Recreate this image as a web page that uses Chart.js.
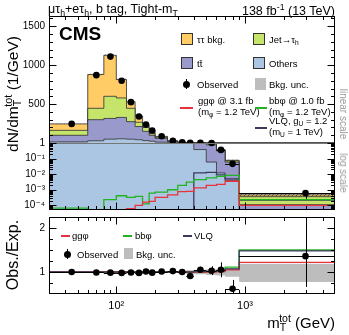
<!DOCTYPE html>
<html>
<head>
<meta charset="utf-8">
<script src="https://cdn.jsdelivr.net/npm/chart.js@4.4.1/dist/chart.umd.min.js"></script>
<style>
body { margin: 0; background: #fff; }
#wrap { position: relative; width: 349px; height: 335px; overflow: hidden; font-family: 'Liberation Sans', Arial, sans-serif; color: #000; }
canvas { position: absolute; left: 0; top: 0; }
.t { position: absolute; white-space: nowrap; line-height: 1; }
.sub { font-size: 70%; vertical-align: -0.3em; }
.sup { font-size: 70%; vertical-align: 0.55em; }
.rot { transform: translate(-50%, -50%) rotate(-90deg); }
.rotcw { transform: translate(-50%, -50%) rotate(90deg); }
.box { position: absolute; border: 1px solid #333; box-sizing: border-box; }
.ln { position: absolute; height: 1.5px; }
.leg { font-size: 9.5px; }
</style>
</head>
<body>
<div id="wrap">
  <canvas id="cLin" width="349" height="335"></canvas>
  <canvas id="cLog" width="349" height="335"></canvas>
  <canvas id="cRat" width="349" height="335"></canvas>

  <div class="t" style="left:48px;top:3px;font-size:12.5px;">μτ<span class="sub">h</span>+eτ<span class="sub">h</span>, b tag, Tight-m<span class="sub">T</span></div>
  <div class="t" style="right:14px;top:3px;font-size:12.5px;">138 fb<span class="sup">-1</span> (13 TeV)</div>
  <div class="t" style="left:59px;top:24px;font-size:19px;font-weight:bold;">CMS</div>

  <!-- main legend -->
  <div class="box" style="left:181px;top:33px;width:12px;height:12px;background:#ffcc66;"></div>
  <div class="t leg" style="left:197px;top:35px;">ττ bkg.</div>
  <div class="box" style="left:253px;top:33px;width:12px;height:12px;background:#c5e46a;"></div>
  <div class="t leg" style="left:269px;top:35px;">Jet→τ<span class="sub">h</span></div>
  <div class="box" style="left:181px;top:57px;width:12px;height:12px;background:#9999cc;"></div>
  <div class="t leg" style="left:197px;top:59px;">tt̄</div>
  <div class="box" style="left:253px;top:57px;width:12px;height:12px;background:#abc6e2;"></div>
  <div class="t leg" style="left:269px;top:59px;">Others</div>
  <div style="position:absolute;left:186px;top:79px;width:1px;height:10px;background:#000;"></div>
  <div style="position:absolute;left:183px;top:81px;width:7px;height:7px;border-radius:50%;background:#000;"></div>
  <div class="t leg" style="left:197px;top:80px;">Observed</div>
  <div style="position:absolute;left:255px;top:78px;width:11px;height:12px;background:#bdbdbd;"></div>
  <div class="t leg" style="left:269px;top:80px;">Bkg. unc.</div>
  <div class="ln" style="left:180px;top:107px;width:13px;background:#e8323c;"></div>
  <div class="t leg" style="left:198px;top:96px;">ggφ @ 3.1 fb</div>
  <div class="t leg" style="left:198px;top:107px;">(m<span class="sub">φ</span> = 1.2 TeV)</div>
  <div class="ln" style="left:255px;top:107px;width:12px;background:#22b322;"></div>
  <div class="t leg" style="left:269px;top:96px;">bbφ @ 1.0 fb</div>
  <div class="t leg" style="left:269px;top:107px;">(m<span class="sub">φ</span> = 1.2 TeV)</div>
  <div class="ln" style="left:255px;top:127px;width:12px;background:#3a3a5c;"></div>
  <div class="t leg" style="left:269px;top:116px;">VLQ, g<span class="sub">U</span> = 1.2</div>
  <div class="t leg" style="left:269px;top:127px;">(m<span class="sub">U</span> = 1 TeV)</div>

  <!-- ratio legend -->
  <div class="ln" style="left:61px;top:235px;width:9px;background:#e8323c;"></div>
  <div class="t" style="left:72px;top:231px;font-size:9.5px;">ggφ</div>
  <div class="ln" style="left:123px;top:235px;width:9px;background:#22b322;"></div>
  <div class="t" style="left:135px;top:231px;font-size:9.5px;">bbφ</div>
  <div class="ln" style="left:183px;top:235px;width:9px;background:#3a3a5c;"></div>
  <div class="t" style="left:194px;top:231px;font-size:9.5px;">VLQ</div>
  <div style="position:absolute;left:67px;top:249px;width:1px;height:10px;background:#000;"></div>
  <div style="position:absolute;left:64px;top:251px;width:7px;height:7px;border-radius:50%;background:#000;"></div>
  <div class="t" style="left:77px;top:250px;font-size:9.5px;">Observed</div>
  <div style="position:absolute;left:124px;top:248px;width:9px;height:11px;background:#bdbdbd;"></div>
  <div class="t" style="left:136px;top:250px;font-size:9.5px;">Bkg. unc.</div>

  <!-- axis titles -->
  <div class="t rot" style="left:13px;top:94px;font-size:15.5px;">dN/dm<span class="sub">T</span><span class="sup" style="margin-left:-7px;">tot</span> (1/GeV)</div>
  <div class="t rot" style="left:13px;top:255px;font-size:16px;">Obs./Exp.</div>
  <div class="t" style="right:14px;top:313px;font-size:15px;">m<span class="sub">T</span><span class="sup" style="margin-left:-7px;">tot</span> (GeV)</div>
  <div class="t rotcw" style="left:343px;top:114px;font-size:10px;color:#999;">linear scale</div>
  <div class="t rotcw" style="left:343px;top:173px;font-size:10px;color:#999;">log scale</div>
</div>

<script>
// m_T^tot bin edges (GeV)
const binEdges = [30, 60, 80, 100, 120, 140, 160, 180, 200, 250, 300, 350, 400, 500, 600, 700, 900, 5000];

// stacked backgrounds, events / GeV
const others   = [15, 30, 50, 55, 50, 43, 32, 24, 12, 5, 2.5, 1.3, 0.38, 0.06, 0.012, 0.004, 0.00002];
const ttbar    = [85, 270, 266, 274, 225, 169, 118, 76, 48, 15.5, 5.5, 2.0, 1.1, 0.7, 0.30, 0.055, 0.00009];
const jetFakes = [63, 146, 284, 250, 171, 55, 50, 21, 14, 5.5, 2.0, 0.6, 0.28, 0.14, 0.045, 0.012, 0.00025];
const tautau   = [83, 434, 526, 237, 84, 81, 35, 43, 12, 3.5, 1.0, 0.3, 0.14, 0.07, 0.02, 0.007, 0.00011];

// relative background uncertainty (band edges)
const uncLo = [0.99, 0.99, 0.99, 0.99, 0.99, 0.988, 0.985, 0.985, 0.98, 0.975, 0.97, 0.96, 0.95, 0.93, 0.92, 0.89, 0.77];
const uncHi = [1.01, 1.01, 1.01, 1.01, 1.01, 1.012, 1.015, 1.015, 1.02, 1.025, 1.03, 1.04, 1.05, 1.06, 1.07, 1.09, 1.19];

// data
const observed = [246, 871, 1109, 800, 525, 341, 237, 162, 87, 30, 11, 3.8, 2.0, 1.0, 0.36, 0.046, 0.00061];
const obsErrLo = [3, 7, 7.5, 6, 5, 4, 3.5, 3, 1.3, 0.8, 0.45, 0.27, 0.14, 0.1, 0.06, 0.015, 0.00035];
const obsErrHi = [3, 7, 7.5, 6, 5, 4, 3.5, 3, 1.3, 0.8, 0.45, 0.27, 0.14, 0.1, 0.06, 0.015, 0.0003];

// signals (1e-7 = below the axis)
const sigGG  = [1e-7, 1e-7, 1e-7, 1e-7, 6e-5, 1e-4, 1.6e-4, 1.8e-4, 3.2e-4, 4.7e-4, 7.5e-4, 7.9e-4, 1.3e-3, 1.9e-3, 2.2e-3, 3.5e-3, 1.0e-4];
const sigBB  = [6.6e-5, 3e-5, 2.3e-4, 4.1e-4, 3.2e-4, 3.7e-4, 1.25e-4, 6.1e-4, 7.1e-4, 1.0e-3, 1.9e-3, 3.1e-3, 4.4e-3, 5.7e-3, 7.2e-3, 8.4e-3, 2.3e-4];
const sigVLQ = [1e-7, 1e-7, 1e-7, 1e-7, 1e-7, 1e-7, 1e-7, 1e-7, 1e-7, 1e-7, 1e-7, 1e-7, 0.012, 0.013, 0.009, 0.005, 2.2e-4];

// ratio panel
const ratioObs   = [1.0, 0.99, 0.985, 0.98, 0.99, 0.98, 1.01, 0.985, 1.01, 1.02, 1.0, 0.91, 1.05, 1.03, 1.05, 0.62, 1.36];
const ratioErrLo = [0.012, 0.008, 0.007, 0.008, 0.01, 0.012, 0.014, 0.018, 0.015, 0.026, 0.04, 0.07, 0.07, 0.1, 0.17, 0.2, 0.7];
const ratioErrHi = [0.012, 0.008, 0.007, 0.008, 0.01, 0.012, 0.014, 0.018, 0.015, 0.026, 0.04, 0.07, 0.07, 0.1, 0.17, 0.2, 1.5];
const ratioGG  = [1, 1, 1, 1, 1, 1, 1, 1, 1, 1, 1, 1, 1.0, 1.0, 1.01, 1.05, 1.22];
const ratioBB  = [1, 1, 1, 1, 1, 1, 1, 1, 1, 1, 1, 1, 1.0, 1.01, 1.02, 1.11, 1.5];
const ratioVLQ = [1, 1, 1, 1, 1, 1, 1, 1, 1, 1, 1, 1, 1.01, 1.015, 1.03, 1.07, 1.48];

// axis ticks
const xMajorTicks = [100, 1000];
const xLabels = {100: '10²', 1000: '10³'};
const linTicks = [500, 1000, 1500];
const logTicks = [1e-4, 1e-3, 1e-2, 1e-1, 1];
const logLabels = {1: '1', 0.1: '10⁻¹', 0.01: '10⁻²', 0.001: '10⁻³', 0.0001: '10⁻⁴'};
const ratioTicks = [1, 2];

const colors = {
    tautau: '#ffcc66', jet: '#c5e46a', tt: '#9999cc', others: '#abc6e2',
    gg: '#e8323c', bb: '#22b322', vlq: '#3a3a5c', unc: '#bdbdbd'
};

Chart.defaults.font.family = "'Liberation Sans', 'DejaVu Sans', Arial, sans-serif";
Chart.defaults.color = '#000';

const binCenters = binEdges.slice(0, -1).map((e, i) => (e + binEdges[i + 1]) / 2);
const totalBkg = others.map((v, i) => v + ttbar[i] + jetFakes[i] + tautau[i]);

function stepData(vals) {
    const pts = vals.map((v, i) => ({x: binEdges[i], y: v}));
    pts.push({x: binEdges[vals.length], y: vals[vals.length - 1]});
    return pts;
}

function logMinor(lo, hi) {
    const out = [];
    for (let e = Math.floor(Math.log10(lo)); e <= Math.ceil(Math.log10(hi)); e++) {
        for (let m = 2; m <= 9; m++) {
            const v = m * Math.pow(10, e);
            if (v > lo && v < hi) out.push(v);
        }
    }
    return out;
}

function hatch() {
    const c = document.createElement('canvas');
    c.width = 4; c.height = 4;
    const g = c.getContext('2d');
    g.strokeStyle = 'rgba(70,70,70,0.85)';
    g.lineWidth = 1;
    g.beginPath(); g.moveTo(-1, 5); g.lineTo(5, -1); g.stroke();
    return g.createPattern(c, 'repeat');
}

const panelFrame = {
    id: 'panelFrame',
    beforeDatasetsDraw(chart, args, o) {
        if (!o.unity) return;
        const {ctx, chartArea: a, scales: {y}} = chart;
        const yy = Math.round(y.getPixelForValue(1)) + 0.5;
        ctx.save();
        ctx.strokeStyle = '#000'; ctx.lineWidth = 1.2;
        ctx.beginPath(); ctx.moveTo(a.left, yy); ctx.lineTo(a.right, yy); ctx.stroke();
        ctx.restore();
    },
    afterDatasetsDraw(chart, args, o) {
        const {ctx, chartArea: a, scales: {x, y}} = chart;
        ctx.save();
        if (o.err) {
            ctx.beginPath();
            ctx.rect(a.left, a.top, a.right - a.left, a.bottom - a.top);
            ctx.clip();
            ctx.strokeStyle = '#000'; ctx.lineWidth = 1;
            ctx.beginPath();
            o.err.val.forEach((v, i) => {
                if (v > o.err.max) return;
                const px = Math.round(x.getPixelForValue(binCenters[i])) + 0.5;
                const py = Math.round(y.getPixelForValue(v)) + 0.5;
                const lo = Math.max(v - o.err.lo[i], y.min / 10);
                ctx.moveTo(px, y.getPixelForValue(lo));
                ctx.lineTo(px, y.getPixelForValue(v + o.err.hi[i]));
                ctx.moveTo(x.getPixelForValue(binEdges[i]), py);
                ctx.lineTo(x.getPixelForValue(binEdges[i + 1]), py);
            });
            ctx.stroke();
            ctx.restore();
            ctx.save();
        }
        if (o.divider) {
            ctx.strokeStyle = '#777'; ctx.lineWidth = 1;
            ctx.beginPath(); ctx.moveTo(a.left, a.top + 0.5); ctx.lineTo(a.right, a.top + 0.5); ctx.stroke();
        }
        ctx.strokeStyle = '#000'; ctx.lineWidth = 1;
        const L = a.left + 0.5, R = a.right - 0.5, T = a.top + 0.5, B = a.bottom - 0.5;
        ctx.beginPath();
        const hTick = (v, len) => {
            const p = Math.round(y.getPixelForValue(v)) + 0.5;
            if (p < a.top || p > a.bottom) return;
            ctx.moveTo(L, p); ctx.lineTo(L + len, p);
            ctx.moveTo(R, p); ctx.lineTo(R - len, p);
        };
        const vTick = (v, len) => {
            const p = Math.round(x.getPixelForValue(v)) + 0.5;
            if (o.top) { ctx.moveTo(p, T); ctx.lineTo(p, T + len); }
            if (o.bottom) { ctx.moveTo(p, B); ctx.lineTo(p, B - len); }
        };
        o.yMajor.forEach(v => hTick(v, 7));
        o.yMinor.forEach(v => hTick(v, 3.5));
        xMajorTicks.forEach(v => vTick(v, 7));
        logMinor(30, 5000).forEach(v => vTick(v, 3.5));
        ctx.moveTo(L, a.top); ctx.lineTo(L, a.bottom);
        ctx.moveTo(R, a.top); ctx.lineTo(R, a.bottom);
        if (o.top) { ctx.moveTo(a.left, T); ctx.lineTo(a.right, T); }
        if (o.bottom) { ctx.moveTo(a.left, B); ctx.lineTo(a.right, B); }
        ctx.stroke();
        ctx.restore();
    }
};

function xScale(show) {
    return {
        type: 'logarithmic', min: 30, max: 5000, display: show,
        grid: {display: false, drawTicks: false}, border: {display: false},
        afterBuildTicks: s => { s.ticks = xMajorTicks.map(v => ({value: v})); },
        afterFit: s => { if (show) s.height = 41; },
        ticks: {autoSkip: false, maxRotation: 0, padding: 5, font: {size: 11}, callback: v => xLabels[v] || ''}
    };
}

function yScale(type, min, max, ticks, labels, stacked) {
    return {
        type: type, min: min, max: max, stacked: stacked,
        grid: {display: false, drawTicks: false}, border: {display: false},
        afterFit: s => { s.width = 49; },
        afterBuildTicks: s => { s.ticks = ticks.map(v => ({value: v})); },
        ticks: {autoSkip: false, padding: 4, font: {size: 10}, callback: v => labels ? labels[v] : String(v)}
    };
}

function bkgDatasets(pattern) {
    return [
        {data: stepData(totalBkg.map((t, i) => t * uncLo[i])), stack: 'ulo', borderWidth: 0, fill: false},
        {data: stepData(totalBkg.map((t, i) => t * uncHi[i])), stack: 'uhi', borderWidth: 0, fill: '-1', backgroundColor: pattern},
        {data: stepData(others), stack: 'bkg', fill: 'start', backgroundColor: colors.others},
        {data: stepData(ttbar), stack: 'bkg', fill: '-1', backgroundColor: colors.tt},
        {data: stepData(jetFakes), stack: 'bkg', fill: '-1', backgroundColor: colors.jet},
        {data: stepData(tautau), stack: 'bkg', fill: '-1', backgroundColor: colors.tautau}
    ];
}

function signalDataset(vals, color, stack) {
    return {data: stepData(vals), stack: stack, borderColor: color, borderWidth: 1.3, fill: false};
}

const baseOptions = {
    responsive: false, animation: false, devicePixelRatio: 1, events: [],
    elements: {
        line: {stepped: true, tension: 0, borderColor: '#2a2a2a', borderWidth: 0.8},
        point: {radius: 0}
    }
};

function makeOptions(padding, x, y, frame) {
    return Object.assign({}, baseOptions, {
        layout: {padding: padding},
        scales: {x: x, y: y},
        plugins: {legend: {display: false}, tooltip: {enabled: false}, panelFrame: frame}
    });
}

const pat = hatch();

// linear part of the upper panel
new Chart(document.getElementById('cLin'), {
    type: 'line',
    data: {datasets: [
        {type: 'scatter', data: observed.map((v, i) => ({x: binCenters[i], y: v >= 1 ? v : null})),
         stack: 'obs', pointRadius: 3.3, pointBackgroundColor: '#000', pointBorderWidth: 0,
         clip: {left: 0, right: 0, top: 0, bottom: 4}}
    ].concat(bkgDatasets(pat).map(d => Object.assign(d, {clip: 0})))},
    options: makeOptions({top: 16, bottom: 192, left: 0, right: 14},
        xScale(false), yScale('linear', 1, 1630, linTicks, null, true),
        {top: true, bottom: false, yMajor: linTicks, yMinor: [100, 200, 300, 400, 600, 700, 800, 900, 1100, 1200, 1300, 1400, 1600]}),
    plugins: [panelFrame]
});

// log part of the upper panel
new Chart(document.getElementById('cLog'), {
    type: 'line',
    data: {datasets: [
        {type: 'scatter', data: observed.map((v, i) => ({x: binCenters[i], y: v})),
         stack: 'obs', pointRadius: 3.3, pointBackgroundColor: '#000', pointBorderWidth: 0},
        signalDataset(sigGG, colors.gg, 'gg'),
        signalDataset(sigBB, colors.bb, 'bb'),
        signalDataset(sigVLQ, colors.vlq, 'vlq')
    ].concat(bkgDatasets(pat)).map(d => Object.assign(d, {clip: 0}))},
    options: makeOptions({top: 143, bottom: 125, left: 0, right: 14},
        xScale(false), yScale('logarithmic', 5e-5, 1, logTicks, logLabels, true),
        {top: false, bottom: true, divider: true, yMajor: logTicks, yMinor: logMinor(5e-5, 1),
         err: {val: observed, lo: obsErrLo, hi: obsErrHi, max: 1.0}}),
    plugins: [panelFrame]
});

// ratio panel
new Chart(document.getElementById('cRat'), {
    type: 'line',
    data: {datasets: [
        {type: 'scatter', data: ratioObs.map((v, i) => ({x: binCenters[i], y: v})),
         pointRadius: 3.3, pointBackgroundColor: '#000', pointBorderWidth: 0},
        signalDataset(ratioVLQ, colors.vlq),
        signalDataset(ratioGG, colors.gg),
        signalDataset(ratioBB, colors.bb),
        {data: stepData(uncLo), borderWidth: 0, fill: false},
        {data: stepData(uncHi), borderWidth: 0, fill: '-1', backgroundColor: colors.unc}
    ]},
    options: makeOptions({top: 217, bottom: 0, left: 0, right: 14},
        xScale(true), yScale('linear', 0.5, 2.25, ratioTicks, null, false),
        {top: true, bottom: true, unity: true, yMajor: ratioTicks, yMinor: [0.5, 0.75, 1.25, 1.5, 1.75],
         err: {val: ratioObs, lo: ratioErrLo, hi: ratioErrHi, max: 100}}),
    plugins: [panelFrame]
});
</script>
</body>
</html>
